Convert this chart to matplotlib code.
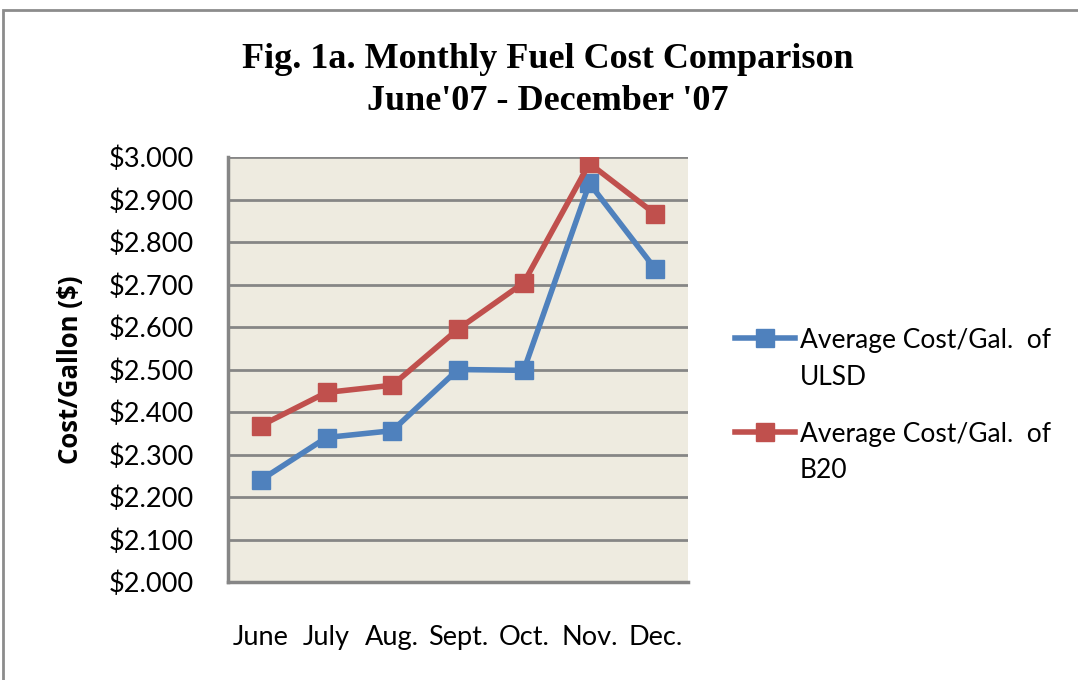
import matplotlib
matplotlib.use("Agg")
import matplotlib.pyplot as plt
from matplotlib.patches import Rectangle
from matplotlib.lines import Line2D
from matplotlib.ticker import FuncFormatter

months = ["June", "July", "Aug.", "Sept.", "Oct.", "Nov.", "Dec."]
ulsd = [2.240, 2.340, 2.356, 2.500, 2.498, 2.938, 2.737]
b20 = [2.368, 2.446, 2.463, 2.595, 2.704, 2.985, 2.866]
yticks = [2.0, 2.1, 2.2, 2.3, 2.4, 2.5, 2.6, 2.7, 2.8, 2.9, 3.0]
series_labels = [["Average Cost/Gal.  of", "ULSD"], ["Average Cost/Gal.  of", "B20"]]
colors = ["#4F81BD", "#C0504D"]

W, H = 1078, 680
fig = plt.figure(figsize=(W / 100, H / 100), dpi=100)
fig.patch.set_facecolor("white")

# outer frame (cut off at right/bottom)
fig.patches.append(Rectangle((3 / W, -0.1), 1.2, (H - 10) / H + 0.1, transform=fig.transFigure,
                             fill=False, edgecolor="#8c8c8c", linewidth=2))

ax = fig.add_axes([228 / W, 1 - 582 / H, (688 - 228) / W, (582 - 157) / H])
ax.set_facecolor("#EEEBE0")
x = list(range(len(months)))
for vals, c, lab in zip([ulsd, b20], colors, series_labels):
    ax.plot(x, vals, color=c, lw=4, marker="s", ms=13, label=" ".join(lab), zorder=3)
ax.set_xlim(-0.5, 6.5)
ax.set_ylim(2.0, 3.0)
ax.set_yticks(yticks)
ax.yaxis.set_major_formatter(FuncFormatter(lambda v, p: f"${v:.3f}"))
ax.set_xticks(x)
ax.set_xticklabels(months)
ax.grid(axis="y", color="#868686", lw=2)
ax.set_axisbelow(True)
for s in ["top", "right"]:
    ax.spines[s].set_visible(False)
for s in ["left", "bottom"]:
    ax.spines[s].set_color("#868686")
    ax.spines[s].set_linewidth(2.5)
ax.tick_params(length=0, labelsize=19.5)
ax.tick_params(axis="y", pad=24.5)
ax.tick_params(axis="x", pad=31)
for lab in ax.get_xticklabels() + ax.get_yticklabels():
    lab.set_family("Lato")
ax.set_ylabel("Cost/Gallon ($)", fontsize=18.5, fontweight="bold", family="Open Sans", labelpad=18)

fig.text(548 / W, 1 - 60 / H, "Fig. 1a. Monthly Fuel Cost Comparison", ha="center", va="center",
         fontsize=26, fontweight="bold", family="Liberation Serif")
fig.text(548 / W, 1 - 102 / H, "June'07 - December '07", ha="center", va="center",
         fontsize=26, fontweight="bold", family="Liberation Serif")

# legend drawn manually: handle aligned with the first text line
handle_y = [338, 432]
base_y = [(348, 385), (442, 478)]
for hy, (b1, b2), c, lab in zip(handle_y, base_y, colors, series_labels):
    fig.lines.append(Line2D([735 / W, 795 / W], [1 - hy / H, 1 - hy / H], transform=fig.transFigure,
                            color=c, lw=4))
    fig.lines.append(Line2D([765 / W], [1 - hy / H], transform=fig.transFigure,
                            color=c, marker="s", ms=13, lw=0))
    fig.text(800 / W, 1 - b1 / H, lab[0], ha="left", va="baseline", fontsize=19, family="Lato")
    fig.text(800 / W, 1 - b2 / H, lab[1], ha="left", va="baseline", fontsize=19, family="Lato")

fig.savefig("out.png", dpi=100)
